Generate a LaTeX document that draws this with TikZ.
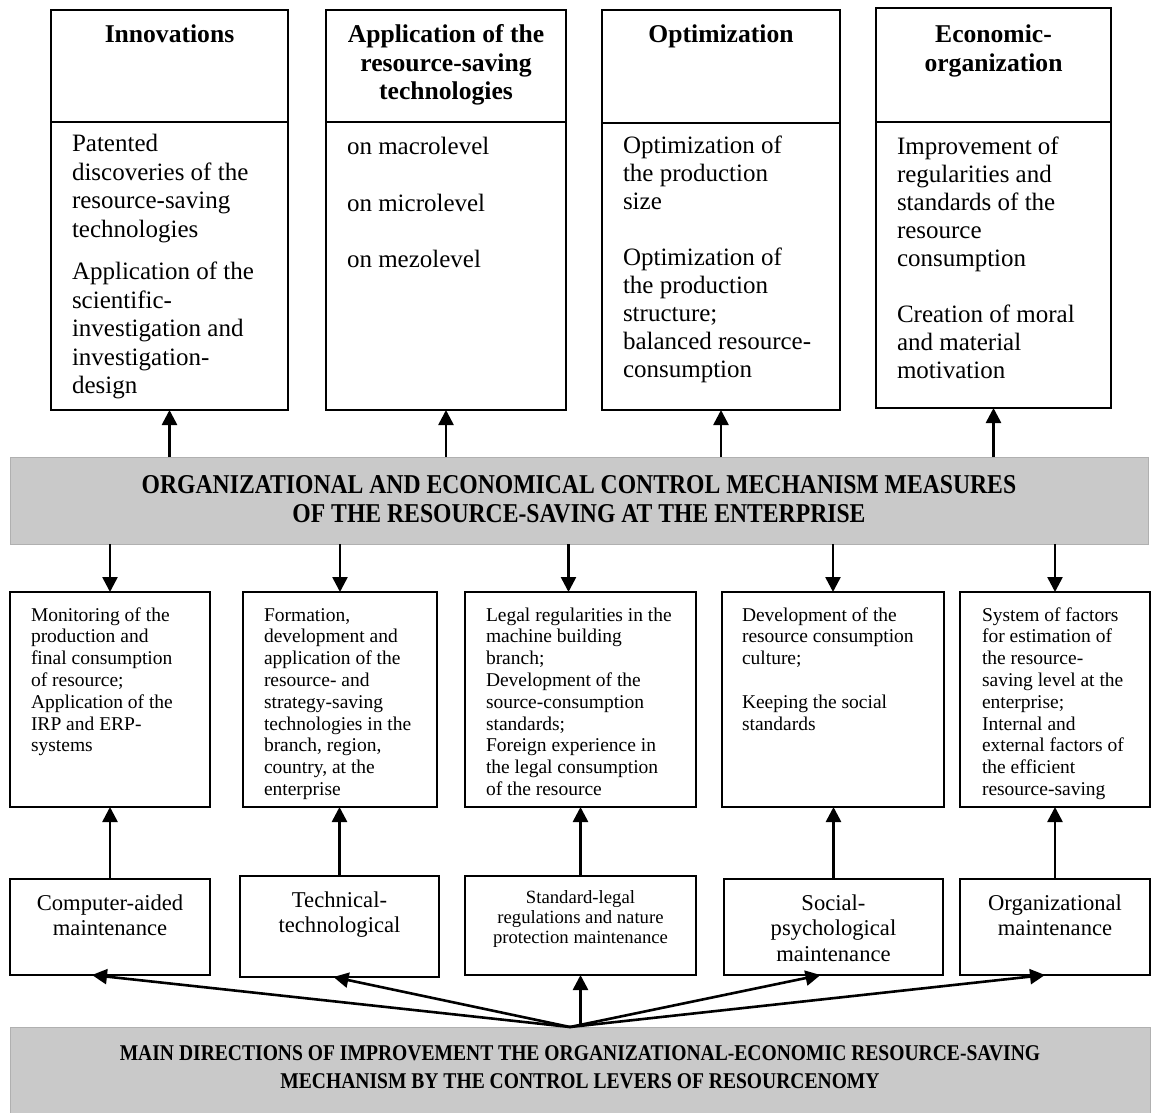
\documentclass[tikz,border=0pt]{standalone}
\usepackage{fontspec}
\setmainfont{Liberation Serif}
\newfontfamily\bandface[FakeStretch=0.87]{Liberation Serif}
\usetikzlibrary{arrows.meta,calc}
\definecolor{bandgray}{HTML}{C9C9C9}
\definecolor{bandline}{HTML}{B0B0B0}
\begin{document}
\begin{tikzpicture}[x=1pt,y=-1pt,
  box/.style={draw=black, line width=1.9pt, inner sep=0pt, outer sep=0pt, anchor=north west},
  band/.style={draw=bandline, fill=bandgray, line width=1pt, inner sep=0pt, outer sep=0pt, anchor=north west},
  arr/.style={line width=2.6pt, -{Triangle[length=15pt,width=15pt]}},
  txt/.style={inner sep=0pt, outer sep=0pt, anchor=base west},
  ctxt/.style={inner sep=0pt, outer sep=0pt, anchor=base},
  headfont/.style={font=\fontsize{25.6}{28.5}\selectfont\bfseries},
  bodyfont/.style={font=\fontsize{25}{28.5}\selectfont},
  bodyfontb/.style={font=\fontsize{25}{28}\selectfont},
  smallfont/.style={font=\fontsize{19.5}{21.8}\selectfont},
  midfont/.style={font=\fontsize{22.6}{25.5}\selectfont},
  tinyfont/.style={font=\fontsize{18.7}{20}\selectfont},
  bandfont/.style={font=\bandface\fontsize{27.2}{29.5}\selectfont\bfseries},
  bandfontb/.style={font=\bandface\fontsize{22.5}{28}\selectfont\bfseries}
]
\useasboundingbox (0,0) rectangle (1152,1113);

% ---------- top boxes ----------
\node[box, minimum width=237pt, minimum height=112pt] (T1h) at (51,10) {};
\node[box, minimum width=237pt, minimum height=288pt] (T1b) at (51,122) {};
\node[box, minimum width=240pt, minimum height=112pt] (T2h) at (326,10) {};
\node[box, minimum width=240pt, minimum height=288pt] (T2b) at (326,122) {};
\node[box, minimum width=238pt, minimum height=113pt] (T3h) at (602,10) {};
\node[box, minimum width=238pt, minimum height=287pt] (T3b) at (602,123) {};
\node[box, minimum width=235pt, minimum height=114pt] (T4h) at (876,8) {};
\node[box, minimum width=235pt, minimum height=286pt] (T4b) at (876,122) {};

\node[ctxt, headfont] (T1ht) at (169.5,43) {Innovations};
\node[ctxt, headfont] (T2ht) at (446,43) {\begin{tabular}[t]{@{}c@{}}Application of the\\resource-saving\\technologies\end{tabular}};
\node[ctxt, headfont] (T3ht) at (721,43) {Optimization};
\node[ctxt, headfont] (T4ht) at (993.5,43) {\begin{tabular}[t]{@{}c@{}}Economic-\\organization\end{tabular}};

\node[txt, bodyfont] (T1bt) at (72,152) {\begin{tabular}[t]{@{}l@{}}Patented\\discoveries of the\\resource-saving\\technologies\\[14pt]Application of the\\scientific-\\investigation and\\investigation-\\design\end{tabular}};
\node[txt, bodyfont] (T2bt) at (347,155) {\begin{tabular}[t]{@{}l@{}}on macrolevel\\[28pt]on microlevel\\[28pt]on mezolevel\end{tabular}};
\node[txt, bodyfontb] (T3bt) at (623,154) {\begin{tabular}[t]{@{}l@{}}Optimization of\\the production\\size\\[28pt]Optimization of\\the production\\structure;\\balanced resource-\\consumption\end{tabular}};
\node[txt, bodyfontb] (T4bt) at (897,155) {\begin{tabular}[t]{@{}l@{}}Improvement of\\regularities and\\standards of the\\resource\\consumption\\[28pt]Creation of moral\\and material\\motivation\end{tabular}};

% ---------- middle band ----------
\node[band, minimum width=1138pt, minimum height=87pt] (M) at (10,457) {};
\node[ctxt, bandfont] (Mt) at (579,493) {\begin{tabular}[t]{@{}c@{}}ORGANIZATIONAL AND ECONOMICAL CONTROL MECHANISM MEASURES\\OF THE RESOURCE-SAVING AT THE ENTERPRISE\end{tabular}};

% ---------- row 2 ----------
\node[box, minimum width=200pt, minimum height=215pt] (R1) at (10,592) {};
\node[box, minimum width=194pt, minimum height=215pt] (R2) at (243,592) {};
\node[box, minimum width=231pt, minimum height=215pt] (R3) at (465,592) {};
\node[box, minimum width=222pt, minimum height=215pt] (R4) at (722,592) {};
\node[box, minimum width=190pt, minimum height=215pt] (R5) at (960,592) {};

\node[txt, smallfont] (R1t) at (31,621) {\begin{tabular}[t]{@{}l@{}}Monitoring of the\\production and\\final consumption\\of resource;\\Application of the\\IRP and ERP-\\systems\end{tabular}};
\begin{scope}
\clip (R2.north west) rectangle ([yshift=8pt]R2.south east);
\node[txt, smallfont] (R2t) at (264,621) {\begin{tabular}[t]{@{}l@{}}Formation,\\development and\\application of the\\resource- and\\strategy-saving\\technologies in the\\branch, region,\\country, at the\\enterprise\end{tabular}};
\end{scope}
\node[txt, smallfont] (R3t) at (486,621) {\begin{tabular}[t]{@{}l@{}}Legal regularities in the\\machine building\\branch;\\Development of the\\source-consumption\\standards;\\Foreign experience in\\the legal consumption\\of the resource\end{tabular}};
\node[txt, smallfont] (R4t) at (742,621) {\begin{tabular}[t]{@{}l@{}}Development of the\\resource consumption\\culture;\\[21.8pt]Keeping the social\\standards\end{tabular}};
\begin{scope}
\clip (R5.north west) rectangle ([yshift=8pt]R5.south east);
\node[txt, smallfont] (R5t) at (982,621) {\begin{tabular}[t]{@{}l@{}}System of factors\\for estimation of\\the resource-\\saving level at the\\enterprise;\\Internal and\\external factors of\\the efficient\\resource-saving\end{tabular}};
\end{scope}

% ---------- row 3 ----------
\node[box, minimum width=200pt, minimum height=96pt] (S1) at (10,879) {};
\node[box, minimum width=199pt, minimum height=101pt] (S2) at (240,876) {};
\node[box, minimum width=231pt, minimum height=99pt] (S3) at (465,876) {};
\node[box, minimum width=219pt, minimum height=96pt] (S4) at (724,879) {};
\node[box, minimum width=190pt, minimum height=96pt] (S5) at (960,879) {};

\node[ctxt, midfont] (S1t) at (110,910) {\begin{tabular}[t]{@{}c@{}}Computer-aided\\maintenance\end{tabular}};
\node[ctxt, midfont] (S2t) at (339.5,907) {\begin{tabular}[t]{@{}c@{}}Technical-\\technological\end{tabular}};
\node[ctxt, tinyfont] (S3t) at (580.5,903) {\begin{tabular}[t]{@{}c@{}}Standard-legal\\regulations and nature\\protection maintenance\end{tabular}};
\node[ctxt, midfont] (S4t) at (833.5,910) {\begin{tabular}[t]{@{}c@{}}Social-\\psychological\\maintenance\end{tabular}};
\node[ctxt, midfont] (S5t) at (1055,910) {\begin{tabular}[t]{@{}c@{}}Organizational\\maintenance\end{tabular}};

% ---------- bottom band ----------
\node[band, minimum width=1140pt, minimum height=86pt] (B) at (10,1027) {};
\node[ctxt, bandfontb] (Bt) at (580,1060) {\begin{tabular}[t]{@{}c@{}}MAIN DIRECTIONS OF IMPROVEMENT THE ORGANIZATIONAL-ECONOMIC RESOURCE-SAVING\\MECHANISM BY THE CONTROL LEVERS OF RESOURCENOMY\end{tabular}};

% ---------- arrows: middle band up to top boxes ----------
\draw[arr] (M.north -| T1b.south) -- (T1b.south);
\draw[arr] (M.north -| T2b.south) -- (T2b.south);
\draw[arr] (M.north -| T3b.south) -- (T3b.south);
\draw[arr] (M.north -| T4b.south) -- (T4b.south);

% ---------- arrows: middle band down to row 2 ----------
\coordinate (r3top) at ([xshift=-12pt]R3.north);
\draw[arr] (M.south -| R1.north) -- (R1.north);
\draw[arr] (M.south -| R2.north) -- (R2.north);
\draw[arr] (M.south -| r3top) -- (r3top);
\draw[arr] (M.south -| R4.north) -- (R4.north);
\draw[arr] (M.south -| R5.north) -- (R5.north);

% ---------- arrows: row 3 up to row 2 ----------
\draw[arr] (S1.north) -- (S1.north |- R1.south);
\draw[arr] (S2.north) -- (S2.north |- R2.south);
\draw[arr] (S3.north) -- (S3.north |- R3.south);
\draw[arr] (S4.north) -- (S4.north |- R4.south);
\draw[arr] (S5.north) -- (S5.north |- R5.south);

% ---------- fan from bottom band ----------
\coordinate (apex) at ([xshift=-10pt]B.north);
\draw[arr] (apex) -- ([xshift=-18pt]S1.south);
\draw[arr] (apex) -- ([xshift=-6pt]S2.south);
\draw[arr] (B.north -| S3.south) -- (S3.south);
\draw[arr] (apex) -- ([xshift=-13pt]S4.south);
\draw[arr] (apex) -- ([xshift=-10pt]S5.south);
\end{tikzpicture}
\end{document}
